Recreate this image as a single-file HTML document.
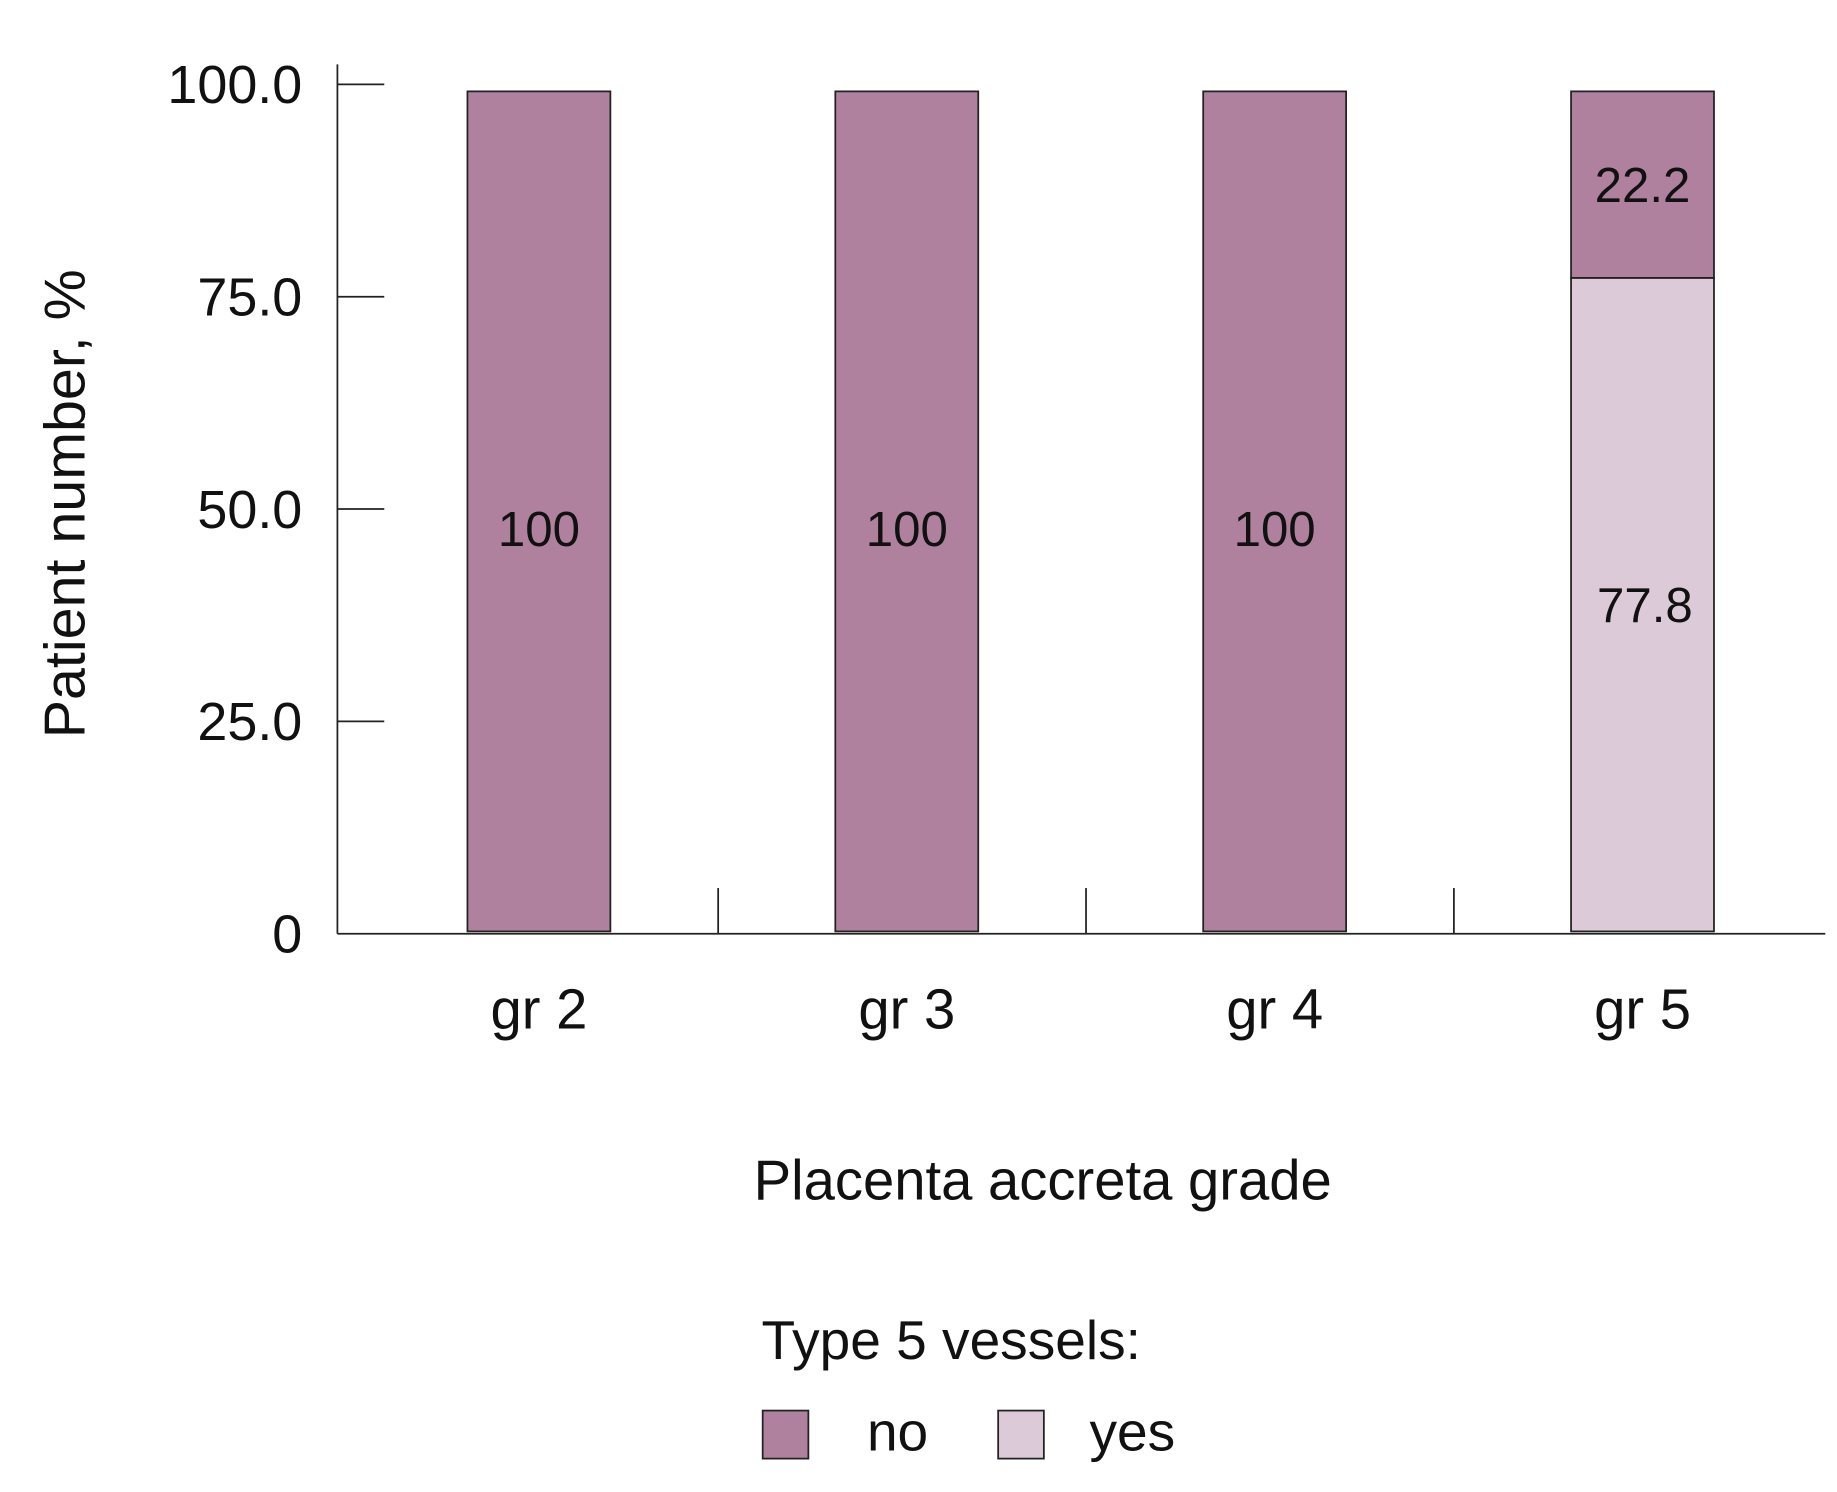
<!DOCTYPE html>
<html><head><meta charset="utf-8"><style>html,body{margin:0;padding:0;background:#fff}svg{display:block}text{font-family:"Liberation Sans",sans-serif;fill:#111}</style></head>
<body>
<svg id="chart" width="1837" height="1492" viewBox="0 0 1568 1273.5" preserveAspectRatio="none" xmlns="http://www.w3.org/2000/svg">
<g id="plot"></g>
<text x="890" y="1024" font-size="48" text-anchor="middle">Placenta accreta grade</text>
<text transform="translate(72,430) rotate(-90)" font-size="49" text-anchor="middle">Patient number, %</text>
<g>
<text x="650" y="1160" font-size="47">Type 5 vessels:</text>
<rect x="651" y="1204" width="39" height="41" fill="#b0819f" stroke="#222" stroke-width="1.5"/>
<text x="740" y="1238" font-size="47">no</text>
<rect x="852" y="1204" width="39" height="41" fill="#dccad9" stroke="#222" stroke-width="1.5"/>
<text x="930" y="1238" font-size="47">yes</text>
</g>
</svg>
<script>
const categories = ["gr 2","gr 3","gr 4","gr 5"];
const yesValues = [0,0,0,77.8];
const noValues = [100,100,100,22.2];
const tickValues = [0,25,50,75,100];
const tickLabels = ["0","25.0","50.0","75.0","100.0"];

const NS="http://www.w3.org/2000/svg";
const g=document.getElementById('plot');
const x0=288,x1=1558,yBase=795,pxPer=7.17;
const y=v=>yBase-v*pxPer;
const ty=v=>797-v*7.25;
const band=314;
const xc=i=>x0+172+band*i;
const bw=122;
function mk(t,a){const e=document.createElementNS(NS,t);for(const k in a)e.setAttribute(k,a[k]);g.appendChild(e);return e;}
categories.forEach((c,i)=>{
  const cx=xc(i);
  if(yesValues[i]>0){
    const r=mk('rect',{x:cx-bw/2,y:y(yesValues[i]),width:bw,height:yesValues[i]*pxPer,fill:'#dccad9',stroke:'#222','stroke-width':1.5});
    
    
    const t=mk('text',{x:cx+2,y:y(yesValues[i]/2)+15,'font-size':42,'text-anchor':'middle'});t.textContent=yesValues[i];
    
    
  }
  if(noValues[i]>0){
    const top=yesValues[i]+noValues[i];
    const r=mk('rect',{x:cx-bw/2,y:y(top),width:bw,height:noValues[i]*pxPer,fill:'#b0819f',stroke:'#222','stroke-width':1.5});
    
    
    const t=mk('text',{x:cx,y:(noValues[i]===100?y(48)+15:y(yesValues[i]+noValues[i]/2)+15),'font-size':42,'text-anchor':'middle'});t.textContent=noValues[i];
    
    
  }
  const l=mk('text',{x:cx,y:878,'font-size':48,'text-anchor':'middle'});l.textContent=c;
  
  
  if(i>0){const sx=(xc(i-1)+xc(i))/2-4;const s=mk('line',{x1:sx,x2:sx,y1:758,y2:797,stroke:'#222','stroke-width':1.5});
    
    }
});
tickValues.forEach((v,i)=>{
  const yy=ty(v);
  if(v>0){const tl=mk('line',{x1:x0,x2:x0+40,y1:yy,y2:yy,stroke:'#222','stroke-width':1.5});
    
    }
  const t=mk('text',{x:258,y:yy+16,'font-size':46,'text-anchor':'end'});t.textContent=tickLabels[i];
  
  
});
const ya=mk('line',{x1:x0,x2:x0,y1:55,y2:797,stroke:'#222','stroke-width':1.5});


const xa=mk('line',{x1:x0,x2:x1,y1:797,y2:797,stroke:'#222','stroke-width':1.5});


</script>
</body></html>
